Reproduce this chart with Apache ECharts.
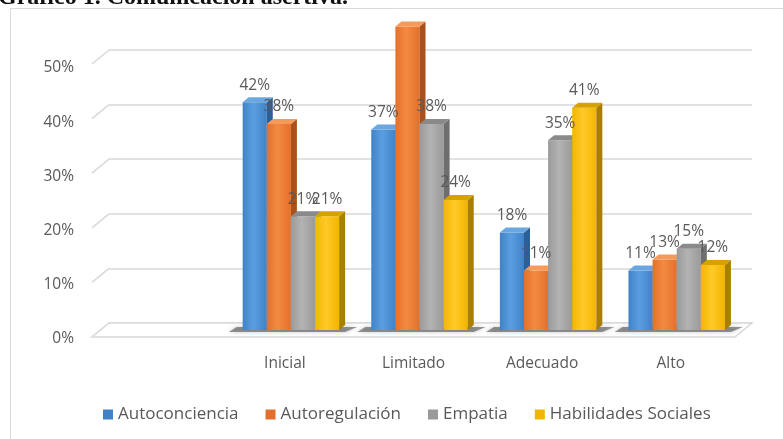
<!DOCTYPE html>
<html>
<head>
<meta charset="utf-8">
<script src="https://cdn.jsdelivr.net/npm/echarts@6/dist/echarts.min.js"></script>
<style>
  html, body { margin: 0; padding: 0; background: #fff; }
  #chart { width: 783px; height: 439px; }
</style>
</head>
<body>
<div id="chart"></div>
<script>
// Categories (first slot left empty, as on the original sheet)
const categories = ['', 'Inicial', 'Limitado', 'Adecuado', 'Alto'];

// Percentages per dimension
const autoconciencia   = [null, 42, 37, 18, 11];
const autorregulacion  = [null, 38, 56, 11, 13];
const empatia          = [null, 21, 38, 35, 15];
const habilidades      = [null, 21, 24, 41, 12];

const seriesNames = ['Autoconciencia', 'Autoregulación', 'Empatia', 'Habilidades Sociales'];
const yTicks = [0, 10, 20, 30, 40, 50];
const Y_MAX = 50;

// Face colours: front (centre/edge of gradient), side, top
const palette = [
  { a: '#5b9ee0', b: '#3f82c8', side: '#2c5f97', top: '#6aa6e0' },
  { a: '#f38a44', b: '#e3702a', side: '#a9501b', top: '#f59a5a' },
  { a: '#b3b3b3', b: '#9a9a9a', side: '#6e6e6e', top: '#8a8a8a' },
  { a: '#ffc928', b: '#f2b600', side: '#a97f00', top: '#d6a200' }
];

const FONT = '"Open Sans", sans-serif';
const DX = 6, DY = -5;          // bar depth
const MX = 6, MY = -9;          // bars sit half way into the floor

const chart = echarts.init(document.getElementById('chart'), null, { renderer: 'canvas' });

function barRenderer(sIdx) {
  return function (params, api) {
    const cat = api.value(0);
    const v = api.value(1);
    if (v == null || isNaN(v)) return;
    const base = api.coord([cat, 0]);
    const top = api.coord([cat, v]);
    const band = api.size([1, 0])[0];
    const bw = band * 0.75 / 4;
    const x0 = base[0] - 2 * bw + sIdx * bw + MX;
    const yb = base[1] + MY;
    const yt = top[1] + MY;
    const c = palette[sIdx];
    const children = [
      {
        type: 'rect',
        shape: { x: x0, y: yt, width: bw, height: yb - yt },
        style: { fill: new echarts.graphic.LinearGradient(0, 0, 1, 0, [
          { offset: 0, color: c.b }, { offset: 0.45, color: c.a }, { offset: 1, color: c.b }
        ]) }
      },
      {
        type: 'polygon',
        shape: { points: [[x0 + bw, yt], [x0 + bw + DX, yt + DY], [x0 + bw + DX, yb + DY], [x0 + bw, yb]] },
        style: { fill: c.side }
      },
      {
        type: 'polygon',
        shape: { points: [[x0, yt], [x0 + DX, yt + DY], [x0 + bw + DX, yt + DY], [x0 + bw, yt]] },
        style: { fill: c.top }
      }
    ];
    // value labels above the plot area fall outside the chart frame
    if (v <= Y_MAX) {
      children.push({
        type: 'text',
        z2: 100,
        style: {
          x: x0 + bw / 2, y: yt - 17,
          text: v + '%',
          align: 'center', verticalAlign: 'middle',
          font: '15.5px ' + FONT, fill: '#595959'
        }
      });
    }
    return { type: 'group', children: children };
  };
}

const seriesData = [autoconciencia, autorregulacion, empatia, habilidades];

const barSeries = seriesData.map((arr, i) => ({
  name: seriesNames[i],
  type: 'custom',
  xAxisIndex: 0, yAxisIndex: 0,
  z: 5,
  clip: false,
  itemStyle: { color: palette[i].b },
  renderItem: barRenderer(i),
  data: arr.map((v, k) => [k, v])
}));

// Floor shadow under each cluster
const shadowSeries = {
  type: 'custom',
  xAxisIndex: 0, yAxisIndex: 0,
  z: 4,
  silent: true,
  renderItem: function (params, api) {
    const cat = api.value(0);
    if (!categories[cat]) return;
    const base = api.coord([cat, 0]);
    const band = api.size([1, 0])[0];
    const bw = band * 0.75 / 4;
    const xs = base[0] - 2 * bw + MX;
    const yb = base[1] + MY;
    return {
      type: 'polygon',
      shape: { points: [[xs - 14, yb + 2], [xs - 6, yb - 3], [xs + 4 * bw + DX + 12, yb - 3], [xs + 4 * bw + 6, yb + 2]] },
      style: { fill: 'rgba(70,70,70,0.55)', shadowBlur: 4, shadowColor: 'rgba(0,0,0,0.4)' }
    };
  },
  data: categories.map((c, k) => [k, 0])
};

// Floor outline and the short diagonal ticks from the labels to the back wall
const wallSeries = {
  type: 'custom',
  xAxisIndex: 1, yAxisIndex: 1,
  z: 1,
  silent: true,
  renderItem: function (params, api) {
    const cs = params.coordSys;
    const v = api.value(0);
    const p = api.coord([0, v]);
    const backX = cs.x;
    const children = [{
      type: 'line',
      shape: { x1: backX - 17, y1: p[1] + 14, x2: backX, y2: p[1] },
      style: { stroke: '#d9d9d9', lineWidth: 1.5 }
    }];
    if (v === 0) {
      const r = cs.x + cs.width;
      children.push({
        type: 'polygon',
        shape: { points: [[backX, p[1]], [r, p[1]], [r - 17, p[1] + 14], [backX - 17, p[1] + 14]] },
        style: { fill: '#fff', stroke: '#d9d9d9', lineWidth: 1.5 }
      });
    }
    return { type: 'group', children: children };
  },
  data: yTicks.map(t => [t])
};

const option = {
  backgroundColor: '#fff',
  animation: false,
  graphic: [
    {
      type: 'rect', z: -10,
      shape: { x: 10.5, y: 8.5, width: 820, height: 480 },
      style: { fill: '#fff', stroke: '#d9d9d9', lineWidth: 1 }
    },
    {
      type: 'text', z: 10,
      style: {
        x: -2, y: 10,
        text: 'Gráfico 1. Comunicación asertiva.',
        font: 'bold 24px "Liberation Serif", serif',
        fill: '#111', verticalAlign: 'bottom'
      }
    }
  ],
  legend: {
    data: seriesNames,
    left: 98, top: 401,
    icon: 'rect', itemWidth: 10, itemHeight: 10, itemGap: 27,
    textStyle: { fontFamily: FONT, fontSize: 17, color: '#595959' }
  },
  grid: [
    { left: 92, right: 48, top: 68, bottom: 100 },
    { left: 109, right: 31, top: 50, bottom: 116 }
  ],
  xAxis: [
    {
      type: 'category', gridIndex: 0, data: categories,
      axisLine: { show: false }, axisTick: { show: false },
      axisLabel: { margin: 17, fontFamily: FONT, fontSize: 15.5, color: '#595959' }
    },
    {
      type: 'category', gridIndex: 1, data: categories, show: false
    }
  ],
  yAxis: [
    {
      type: 'value', gridIndex: 0, min: 0, max: Y_MAX, interval: 10,
      axisLine: { show: false }, axisTick: { show: false }, splitLine: { show: false },
      axisLabel: { margin: 18, formatter: '{value}%', fontFamily: FONT, fontSize: 15.5, color: '#595959' }
    },
    {
      type: 'value', gridIndex: 1, min: 0, max: Y_MAX, interval: 10,
      axisLine: { show: false }, axisTick: { show: false }, axisLabel: { show: false },
      splitLine: { show: true, lineStyle: { color: '#d9d9d9', width: 1.5 } }
    }
  ],
  series: [wallSeries, shadowSeries].concat(barSeries)
};

chart.setOption(option);
</script>
</body>
</html>
